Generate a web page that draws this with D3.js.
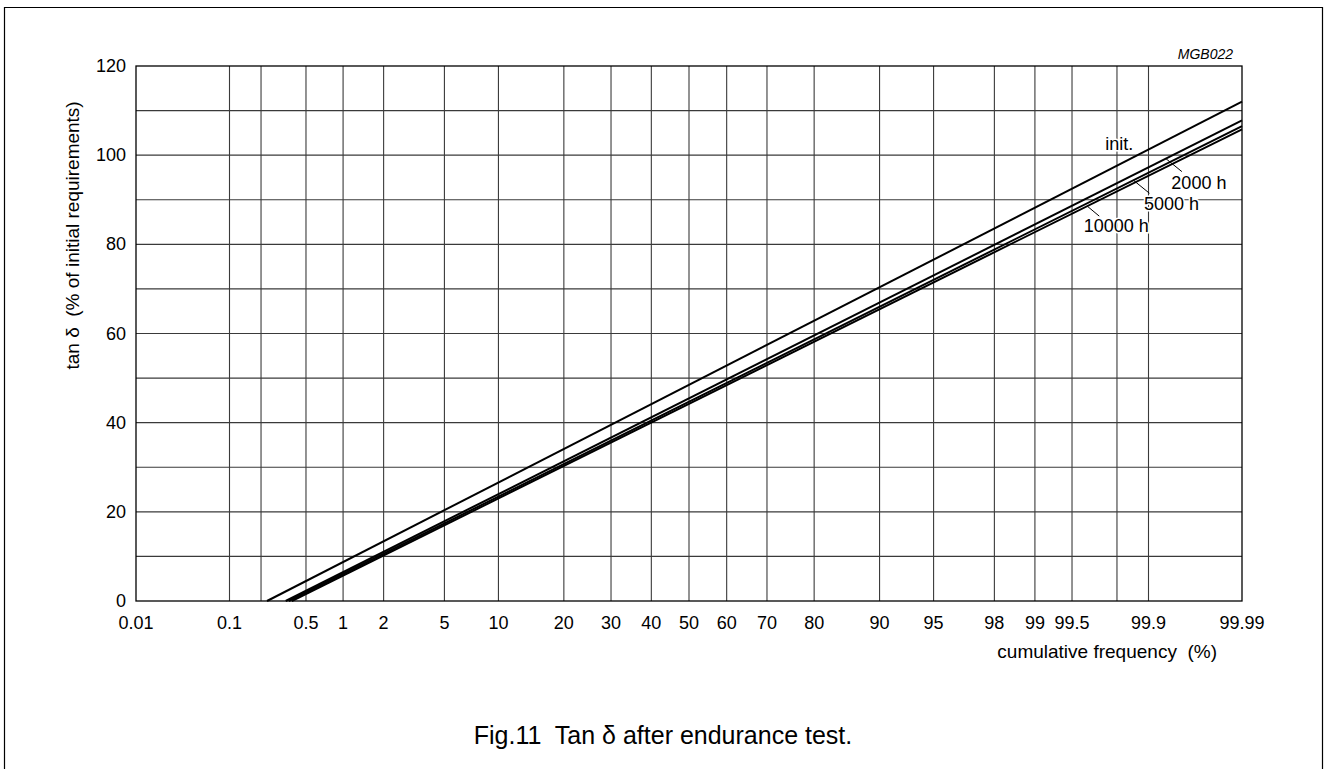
<!DOCTYPE html>
<html>
<head>
<meta charset="utf-8">
<script src="https://cdn.jsdelivr.net/npm/d3@7"></script>
<style>
  body { margin: 0; background: #fff; }
  text { font-family: "Liberation Sans", Arial, sans-serif; fill: #000; white-space: pre; }
</style>
</head>
<body>
<div id="chart"></div>
<script>
// Tan delta after endurance test, probability paper
const seriesNames = ["init.", "2000 h", "5000 h", "10000 h"];
const freqStart = [0.227, 0.334, 0.355, 0.378];     // cumulative % where tan d = 0
const freqEnd = [99.99, 99.99, 99.99, 99.99];
const valueStart = [0, 0, 0, 0];
const valueEnd = [112.0, 107.8, 106.5, 105.8];       // % of initial requirements

const xTickLabels = [0.01, 0.1, 0.5, 1, 2, 5, 10, 20, 30, 40, 50, 60, 70, 80, 90, 95, 98, 99, 99.5, 99.9, 99.99];
const xGrid = [0.1, 0.2, 0.5, 1, 2, 5, 10, 20, 30, 40, 50, 60, 70, 80, 90, 95, 98, 99, 99.5, 99.8, 99.9];
const yTicks = [0, 20, 40, 60, 80, 100, 120];
const yGrid = [10, 20, 30, 40, 50, 60, 70, 80, 90, 100, 110];

// where the series labels sit (cumulative % on the line)
const labelFreq = [99.81, 99.933, 99.86, 99.63];

const width = 1326, height = 769;
const margin = { top: 66, right: 84, bottom: 168, left: 136 };

// inverse normal cdf (Acklam)
function probit(p) {
  const a = [-3.969683028665376e+01, 2.209460984245205e+02, -2.759285104469687e+02, 1.383577518672690e+02, -3.066479806614716e+01, 2.506628277459239e+00];
  const b = [-5.447609879822406e+01, 1.615858368580409e+02, -1.556989798598866e+02, 6.680131188771972e+01, -1.328068155288572e+01];
  const c = [-7.784894002430293e-03, -3.223964580411365e-01, -2.400758277161838e+00, -2.549732539343734e+00, 4.374664141464968e+00, 2.938163982698783e+00];
  const d = [7.784695709041462e-03, 3.224671290700398e-01, 2.445134137142996e+00, 3.754408661907416e+00];
  const pl = 0.02425;
  let q, r;
  if (p < pl) {
    q = Math.sqrt(-2 * Math.log(p));
    return (((((c[0]*q+c[1])*q+c[2])*q+c[3])*q+c[4])*q+c[5]) / ((((d[0]*q+d[1])*q+d[2])*q+d[3])*q+1);
  } else if (p <= 1 - pl) {
    q = p - 0.5; r = q * q;
    return (((((a[0]*r+a[1])*r+a[2])*r+a[3])*r+a[4])*r+a[5])*q / (((((b[0]*r+b[1])*r+b[2])*r+b[3])*r+b[4])*r+1);
  }
  q = Math.sqrt(-2 * Math.log(1 - p));
  return -(((((c[0]*q+c[1])*q+c[2])*q+c[3])*q+c[4])*q+c[5]) / ((((d[0]*q+d[1])*q+d[2])*q+d[3])*q+1);
}

const svg = d3.select("#chart")
  .append("svg")
  .attr("width", width)
  .attr("height", height);

// outer frame (open at the bottom)
svg.append("path")
  .attr("d", `M4.5,${height + 5}V7.5H1322.5V${height + 5}`)
  .attr("fill", "none")
  .attr("stroke", "#000")
  .attr("stroke-width", 1.2);

const zScale = d3.scaleLinear()
  .domain([probit(0.0001), probit(0.9999)])
  .range([margin.left, width - margin.right]);
const x = v => zScale(probit(v / 100));

const y = d3.scaleLinear()
  .domain([0, 120])
  .range([height - margin.bottom, margin.top]);

const grid = svg.append("g")
  .attr("stroke", "#3a3a3a")
  .attr("stroke-width", 1.1);

grid.selectAll("line.v")
  .data(xGrid)
  .enter().append("line")
  .attr("class", "v")
  .attr("x1", d => x(d)).attr("x2", d => x(d))
  .attr("y1", y(0)).attr("y2", y(120));

grid.selectAll("line.h")
  .data(yGrid)
  .enter().append("line")
  .attr("class", "h")
  .attr("x1", x(0.01)).attr("x2", x(99.99))
  .attr("y1", d => y(d)).attr("y2", d => y(d));

svg.append("rect")
  .attr("x", x(0.01))
  .attr("y", y(120))
  .attr("width", x(99.99) - x(0.01))
  .attr("height", y(0) - y(120))
  .attr("fill", "none")
  .attr("stroke", "#000")
  .attr("stroke-width", 1.3);

// tick labels
svg.append("g")
  .selectAll("text")
  .data(xTickLabels)
  .enter().append("text")
  .attr("x", d => x(d))
  .attr("y", y(0) + 28)
  .attr("text-anchor", "middle")
  .attr("font-size", "18px")
  .text(d => d);

svg.append("g")
  .selectAll("text")
  .data(yTicks)
  .enter().append("text")
  .attr("x", x(0.01) - 10)
  .attr("y", d => y(d) + 6)
  .attr("text-anchor", "end")
  .attr("font-size", "18px")
  .text(d => d);

svg.append("text")
  .attr("x", x(99.99) - 25)
  .attr("y", y(0) + 57)
  .attr("text-anchor", "end")
  .attr("font-size", "19px")
  .text("cumulative frequency  (%)");

svg.append("text")
  .attr("transform", `translate(79,${y(82)}) rotate(-90)`)
  .attr("text-anchor", "middle")
  .attr("font-size", "19px")
  .text("tan \u03B4  (% of initial requirements)");

svg.append("text")
  .attr("x", x(99.99) - 9)
  .attr("y", margin.top - 7)
  .attr("text-anchor", "end")
  .attr("font-size", "14px")
  .attr("font-style", "italic")
  .text("MGB022");

svg.append("text")
  .attr("x", width / 2)
  .attr("y", 744)
  .attr("text-anchor", "middle")
  .attr("font-size", "25px")
  .text("Fig.11  Tan \u03B4 after endurance test.");

// series lines
const series = seriesNames.map((name, i) => ({
  name,
  points: [[freqStart[i], valueStart[i]], [freqEnd[i], valueEnd[i]]],
  labelFreq: labelFreq[i]
}));

const line = d3.line()
  .x(d => x(d[0]))
  .y(d => y(d[1]));

svg.append("g")
  .selectAll("path")
  .data(series)
  .enter().append("path")
  .attr("d", d => line(d.points))
  .attr("fill", "none")
  .attr("stroke", "#000")
  .attr("stroke-width", 2);

// value on a series line at a given frequency
function valueAt(s, f) {
  const [p0, p1] = s.points;
  const t = (probit(f / 100) - probit(p0[0] / 100)) / (probit(p1[0] / 100) - probit(p0[0] / 100));
  return p0[1] + t * (p1[1] - p0[1]);
}

// label layout: leader offset and text offset from the leader end
const leader = [null, [16, 13], [16, 13], [12, 10]];
const textOff = [[0, -14], [17, 17], [22, 17], [17, 16]];

series.forEach((s, i) => {
  const px = x(s.labelFreq), py = y(valueAt(s, s.labelFreq));
  let ex = px, ey = py;
  if (leader[i]) {
    ex = px + leader[i][0]; ey = py + leader[i][1];
    svg.append("line")
      .attr("x1", px).attr("y1", py)
      .attr("x2", ex).attr("y2", ey)
      .attr("stroke", "#000")
      .attr("stroke-width", 1);
  }
  svg.append("text")
    .attr("x", ex + textOff[i][0])
    .attr("y", ey + textOff[i][1])
    .attr("text-anchor", "middle")
    .attr("font-size", "18px")
    .attr("paint-order", "stroke")
    .attr("stroke", "#fff")
    .attr("stroke-width", 3)
    .text(s.name);
});
</script>
</body>
</html>
